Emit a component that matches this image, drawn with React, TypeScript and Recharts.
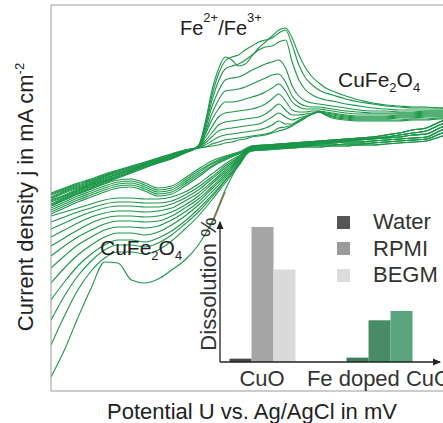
import React from 'react';
import { LineChart, Line, XAxis, YAxis, Label, BarChart, Bar, Cell, Legend, ReferenceDot } from 'recharts';

const FONT = '"Liberation Sans", Arial, Helvetica, sans-serif';
const GREEN = '#1b9648';
const AXIS = '#9a9a9a';

// ---------- main plot: cyclic voltammograms ----------
const potentialTicks = [-500, 0, 500];
const currentTicks = [-154.4, -77.2, 0, 77.2];

// potential (mV) for the anodic (forward) scans
const anodicPotential = [
  -750, -700, -650, -600, -550, -500, -450, -400, -350, -300, -250,
  -200, -175, -150, -125, -100, -75, -50, -25, 0, 25, 50, 75, 100, 125, 150, 175, 200, 225, 250, 275, 300,
  350, 400, 450, 500, 550, 600, 650, 700, 750,
];

// current density (uA cm-2) of anodic scans, -750..-250 mV
const anodicLeftCurrent = [
  [-34, -29, -24, -20, -15, -11, -7, -3, 1, 5, 9],
  [-35, -30, -25, -21, -16, -12, -8, -4, 1, 5, 9],
  [-36, -31, -26, -22, -17, -12, -8, -4, 0, 4, 8],
  [-38, -32, -27, -23, -17, -13, -9, -5, 0, 4, 8],
  [-39, -33, -28, -24, -18, -14, -10, -5, -1, 3, 8],
  [-40, -34, -29, -25, -19, -15, -10, -6, -1, 3, 8],
  [-41, -36, -30, -25, -20, -15, -11, -6, -2, 2, 7],
  [-42, -37, -31, -26, -21, -16, -11, -7, -2, 2, 7],
  [-43, -38, -32, -27, -22, -17, -12, -7, -3, 1, 7],
  [-45, -39, -33, -28, -22, -18, -13, -8, -3, 1, 7],
  [-46, -40, -34, -29, -23, -18, -13, -8, -4, 1, 6],
  [-47, -41, -35, -30, -24, -19, -14, -9, -4, 0, 6],
];

// current density of anodic scans, -200..750 mV (Fe2+/Fe3+ peaks)
const anodicPeakCurrent = [
  [11, 12, 13, 14, 16, 17, 19, 20, 22, 23, 24, 26, 28, 30, 33, 37, 41, 45, 48, 44, 41, 39, 38, 38, 38, 38, 39, 39, 40, 40],
  [11, 12, 15, 17, 19, 20, 21, 22, 23, 24, 25, 27, 31, 32, 34, 38, 42, 45, 47, 44, 42, 40, 39, 39, 39, 39, 40, 40, 41, 41],
  [11, 14, 18, 22, 24, 25, 26, 27, 28, 29, 31, 34, 38, 35, 35, 39, 42, 45, 47, 45, 43, 41, 40, 40, 40, 41, 41, 42, 42, 42],
  [12, 16, 22, 28, 30, 31, 32, 33, 34, 35, 38, 42, 46, 42, 39, 41, 43, 45, 47, 45, 44, 42, 41, 41, 41, 42, 42, 43, 43, 43],
  [12, 18, 26, 34, 37, 38, 39, 40, 41, 42, 45, 50, 55, 49, 44, 44, 45, 46, 47, 46, 45, 43, 42, 42, 42, 43, 43, 44, 44, 44],
  [12, 21, 32, 42, 46, 47, 48, 49, 50, 52, 55, 60, 65, 58, 49, 47, 47, 48, 48, 47, 46, 44, 43, 43, 43, 44, 44, 45, 45, 45],
  [12, 24, 39, 50, 57, 57, 58, 60, 62, 64, 67, 71, 75, 68, 57, 52, 50, 50, 50, 49, 48, 46, 45, 45, 45, 45, 45, 46, 46, 46],
  [13, 26, 45, 59, 68, 69, 70, 72, 75, 78, 81, 84, 85, 77, 63, 56, 53, 52, 52, 51, 50, 48, 47, 46, 46, 46, 46, 47, 47, 47],
  [13, 29, 52, 68, 79, 81, 82, 85, 89, 92, 95, 97, 99, 91, 73, 63, 58, 56, 55, 54, 53, 51, 49, 48, 48, 47, 47, 48, 48, 48],
  [13, 32, 58, 78, 90, 93, 95, 99, 104, 109, 112, 113, 117, 119, 97, 79, 69, 64, 61, 59, 58, 55, 53, 51, 50, 49, 49, 49, 49, 49],
  [13, 34, 63, 85, 98, 102, 104, 109, 113, 117, 119, 121, 126, 129, 114, 94, 81, 74, 69, 66, 64, 60, 57, 55, 53, 52, 51, 51, 51, 50],
  [13, 36, 68, 90, 102, 99, 93, 95, 103, 111, 117, 123, 129, 131, 121, 104, 91, 82, 76, 71, 68, 63, 59, 56, 54, 53, 52, 52, 51, 51],
];

// potential (mV) for the cathodic (reverse) scans
const cathodicPotential = [
  -750, -700, -650, -600, -550, -500, -450, -400, -350, -300, -250, -200, -150, -100, -50,
  0, 50, 100, 150, 200, 250, 300, 350, 400, 450, 500, 550, 600, 650, 700, 750,
];

// cathodic scans, -750..-50 mV (valley scans then the steep later scans)
const cathodicLeftCurrent = [
  [-47, -41, -35, -30, -25, -21, -20, -24, -29, -27, -19, -10, -2, 3, 7],
  [-49, -43, -37, -32, -27, -23, -22, -26, -31, -29, -21, -12, -4, 2, 6],
  [-51, -45, -39, -34, -29, -25, -24, -28, -33, -31, -23, -14, -5, 1, 6],
  [-53, -47, -41, -36, -31, -27, -26, -30, -35, -33, -25, -16, -7, 0, 5],
  [-55, -49, -43, -38, -33, -29, -28, -32, -37, -35, -27, -18, -8, -1, 5],
  [-57, -53, -49, -45, -41, -39, -39, -40, -40, -38, -33, -25, -15, -5, 3],
  [-63, -58, -53, -49, -45, -43, -43, -44, -44, -42, -36, -28, -18, -7, 2],
  [-70, -64, -58, -53, -49, -47, -47, -48, -48, -45, -39, -31, -20, -9, 1],
  [-78, -71, -64, -58, -54, -52, -52, -53, -52, -49, -42, -34, -23, -11, 0],
  [-87, -79, -71, -64, -59, -57, -57, -58, -57, -53, -46, -37, -25, -13, -1],
  [-97, -87, -78, -71, -65, -62, -62, -63, -62, -57, -49, -40, -28, -15, -2],
  [-109, -97, -86, -78, -71, -68, -68, -69, -67, -61, -53, -43, -30, -17, -3],
  [-124, -109, -96, -86, -78, -74, -74, -76, -73, -66, -57, -46, -33, -19, -4],
  [-141, -123, -107, -95, -86, -81, -81, -83, -79, -72, -62, -50, -36, -21, -5],
  [-161, -137, -117, -102, -91, -86, -86, -88, -84, -76, -65, -53, -38, -22, -6],
  [-186, -157, -131, -112, -99, -93, -93, -95, -91, -82, -70, -57, -41, -24, -7],
  [-218, -191, -159, -129, -103, -104, -121, -124, -120, -111, -101, -86, -63, -31, -6],
];

// cathodic scans, 0..750 mV
const cathodicRightCurrent = [
  [13, 14, 15, 16, 17, 18, 19, 20, 21, 22, 24, 26, 29, 31, 37, 42],
  [12, 13, 14, 15, 16, 17, 18, 19, 20, 21, 22, 24, 26, 28, 34, 39],
  [11, 12, 13, 14, 15, 16, 17, 18, 19, 20, 21, 22, 24, 25, 31, 36],
  [10, 11, 12, 13, 14, 15, 16, 17, 17, 18, 19, 20, 21, 22, 28, 33],
  [9, 10, 11, 12, 13, 14, 14, 15, 15, 16, 17, 18, 19, 20, 25, 30],
  [8, 9, 10, 11, 12, 12, 13, 13, 14, 14, 15, 16, 17, 18, 22, 27],
];
const cathodicRightIndex = [0, 1, 2, 3, 4, 5, 0, 1, 2, 3, 4, 5, 0, 1, 2, 3, 4];

// short red trace peeking out along the last scan
const redPotential = [-160, -140, -120, -100];
const redCurrent = [-70, -59, -46, -33];

type Pt = { u: number; j: number };
const toPoints = (xs: number[], ys: number[]): Pt[] => xs.map((u, i) => ({ u, j: ys[i] }));

const anodicSeries = anodicLeftCurrent.map((left, k) =>
  toPoints(anodicPotential, [...left, ...anodicPeakCurrent[k]])
);
const cathodicSeries = cathodicLeftCurrent.map((left, k) =>
  toPoints(cathodicPotential, [...left, ...cathodicRightCurrent[cathodicRightIndex[k]]])
);
const redSeries = toPoints(redPotential, redCurrent);

// ---------- inset: dissolution ----------
const dissolutionCategories = ['CuO', 'Fe doped CuO'];
const categoryPosition = [1, 2];
const insetPositionDomain = [0.641, 2.521];
const insetPercentDomain = [0, 100];
const waterDissolution = [2.4, 3.1];
const rpmiDissolution = [96.4, 29.8];
const begmDissolution = [66, 36.4];

const waterColors = ['#474747', '#3e7d5b'];
const rpmiColors = ['#a6a6a6', '#488b67'];
const begmColors = ['#dadada', '#5ba57e'];

const legendNames = ['Water', 'RPMI', 'BEGM'];
const legendColors = ['#555555', '#9a9a9a', '#dddddd'];

const dissolutionData = dissolutionCategories.map((name, i) => ({
  name,
  pos: categoryPosition[i],
  water: waterDissolution[i],
  rpmi: rpmiDissolution[i],
  begm: begmDissolution[i],
}));

const renderPotentialLabel = (props: any) => {
  const vb = props.viewBox || { x: 51, y: 391, width: 402, height: 32 };
  return (
    <text x={vb.x + vb.width / 2} y={vb.y + 28} textAnchor="middle" fontFamily={FONT} fontSize={22} fill="#222">
      Potential U vs. Ag/AgCl in mV
    </text>
  );
};

const renderCurrentLabel = (props: any) => {
  const vb = props.viewBox || { x: 0, y: 5, width: 51, height: 386 };
  const cy = vb.y + vb.height / 2 - 1;
  return (
    <text transform={`translate(33,${cy}) rotate(-90)`} textAnchor="middle" fontFamily={FONT} fontSize={22} fill="#222">
      Current density j in mA cm<tspan fontSize={13} dy={-9}>-2</tspan>
    </text>
  );
};

const renderDissolutionLabel = (props: any) => {
  const vb = props.viewBox || { x: 219, y: 222, width: 1, height: 140 };
  const cy = vb.y + vb.height / 2 - 8;
  const bx = vb.x + vb.width - 4;
  return (
    <text transform={`translate(${bx},${cy}) rotate(-90)`} textAnchor="middle" fontFamily={FONT} fontSize={22} fill="#333">
      Dissolution %
    </text>
  );
};

const upArrow = (props: any) => {
  const { cx, cy } = props;
  if (cx == null || cy == null) return <g />;
  return <path d={`M${cx},${cy - 1} L${cx - 3.5},${cy + 7} L${cx + 3.5},${cy + 7} Z`} fill="#222" />;
};
const rightArrow = (props: any) => {
  const { cx, cy } = props;
  if (cx == null || cy == null) return <g />;
  return <path d={`M${cx + 1},${cy} L${cx - 7},${cy - 3.5} L${cx - 7},${cy + 3.5} Z`} fill="#222" />;
};

const renderLegend = () => (
  <div style={{ fontFamily: FONT, fontSize: 22, color: '#333' }}>
    {legendNames.map((n, i) => (
      <div key={n} style={{ display: 'flex', alignItems: 'center', height: 26.5, lineHeight: '26.5px' }}>
        <span style={{ display: 'inline-block', width: 13, height: 13, background: legendColors[i], marginRight: 23 }} />
        <span>{n}</span>
      </div>
    ))}
  </div>
);

const lineProps = {
  dataKey: 'j',
  dot: false,
  activeDot: false,
  isAnimationActive: false,
  type: 'monotone' as const,
};

export default function App() {
  return (
    <div style={{ position: 'absolute', left: 0, top: 0, width: 443, height: 423, overflow: 'hidden', background: '#fff' }}>
      <div style={{ position: 'absolute', left: 0, top: 0 }}>
        <LineChart width={460} height={423} margin={{ top: 4, right: 7, bottom: 0, left: 0 }}>
          <XAxis xAxisId="top" orientation="top" type="number" dataKey="u" domain={[-750, 750]} ticks={potentialTicks}
            height={1} tick={false} tickSize={-3} axisLine={{ stroke: AXIS }} tickLine={{ stroke: AXIS }} allowDataOverflow />
          <XAxis type="number" dataKey="u" domain={[-750, 750]} ticks={potentialTicks} height={32} tick={false}
            tickSize={-3} axisLine={{ stroke: AXIS }} tickLine={{ stroke: AXIS }} allowDataOverflow>
            <Label content={renderPotentialLabel} />
          </XAxis>
          <YAxis type="number" domain={[-232, 154]} ticks={currentTicks} width={51} tick={false} tickSize={-3}
            axisLine={{ stroke: AXIS }} tickLine={{ stroke: AXIS }} allowDataOverflow>
            <Label content={renderCurrentLabel} />
          </YAxis>
          <Line {...lineProps} data={redSeries} stroke="#d9534f" strokeWidth={1.2} />
          {cathodicSeries.map((d, i) => (
            <Line key={`c${i}`} {...lineProps} data={d} stroke={GREEN} strokeWidth={1.1} />
          ))}
          {anodicSeries.map((d, i) => (
            <Line key={`a${i}`} {...lineProps} data={d} stroke={GREEN} strokeWidth={1.1} />
          ))}
        </LineChart>
      </div>

      <div style={{ position: 'absolute', left: 0, top: 0 }}>
        <BarChart width={443} height={423} data={dissolutionData} margin={{ top: 222, right: 3, bottom: 31, left: 219 }}
          barGap={0} barSize={22}>
          <XAxis type="number" dataKey="pos" domain={insetPositionDomain} ticks={categoryPosition} interval={0}
            tickFormatter={(v: number) => dissolutionCategories[v - 1]} tickLine={false} height={30}
            tick={{ fill: '#333', fontSize: 22, fontFamily: FONT }}
            axisLine={{ stroke: '#222', strokeWidth: 1.3 }} allowDataOverflow />
          <YAxis type="number" domain={insetPercentDomain} width={1} tick={false} tickLine={false}
            axisLine={{ stroke: '#222', strokeWidth: 1.3 }} allowDataOverflow>
            <Label content={renderDissolutionLabel} />
          </YAxis>
          <Bar dataKey="water" isAnimationActive={false}>
            {dissolutionData.map((d, i) => <Cell key={d.name} fill={waterColors[i]} />)}
          </Bar>
          <Bar dataKey="rpmi" isAnimationActive={false}>
            {dissolutionData.map((d, i) => <Cell key={d.name} fill={rpmiColors[i]} />)}
          </Bar>
          <Bar dataKey="begm" isAnimationActive={false}>
            {dissolutionData.map((d, i) => <Cell key={d.name} fill={begmColors[i]} />)}
          </Bar>
          <ReferenceDot x={insetPositionDomain[0]} y={insetPercentDomain[1]} shape={upArrow} ifOverflow="visible" />
          <ReferenceDot x={insetPositionDomain[1]} y={insetPercentDomain[0]} shape={rightArrow} ifOverflow="visible" />
          <Legend content={renderLegend} layout="horizontal" verticalAlign="middle" align="center"
            wrapperStyle={{ position: 'absolute', left: 337, top: 209, width: 110 }} />
        </BarChart>
      </div>

      <svg width={443} height={423} style={{ position: 'absolute', left: 0, top: 0, pointerEvents: 'none' }}>
        <text x={180} y={35} fontFamily={FONT} fontSize={20} fill="#222">
          Fe<tspan fontSize={13} dy={-13}>2+</tspan><tspan dy={13}>/Fe</tspan><tspan fontSize={13} dy={-13}>3+</tspan>
        </text>
        <text x={338} y={87} fontFamily={FONT} fontSize={21} fill="#222">
          CuFe<tspan fontSize={13} dy={5}>2</tspan><tspan dy={-5}>O</tspan><tspan fontSize={13} dy={5}>4</tspan>
        </text>
        <text x={100} y={255} fontFamily={FONT} fontSize={21} fill="#222">
          CuFe<tspan fontSize={13} dy={5}>2</tspan><tspan dy={-5}>O</tspan><tspan fontSize={13} dy={5}>4</tspan>
        </text>
      </svg>
    </div>
  );
}
